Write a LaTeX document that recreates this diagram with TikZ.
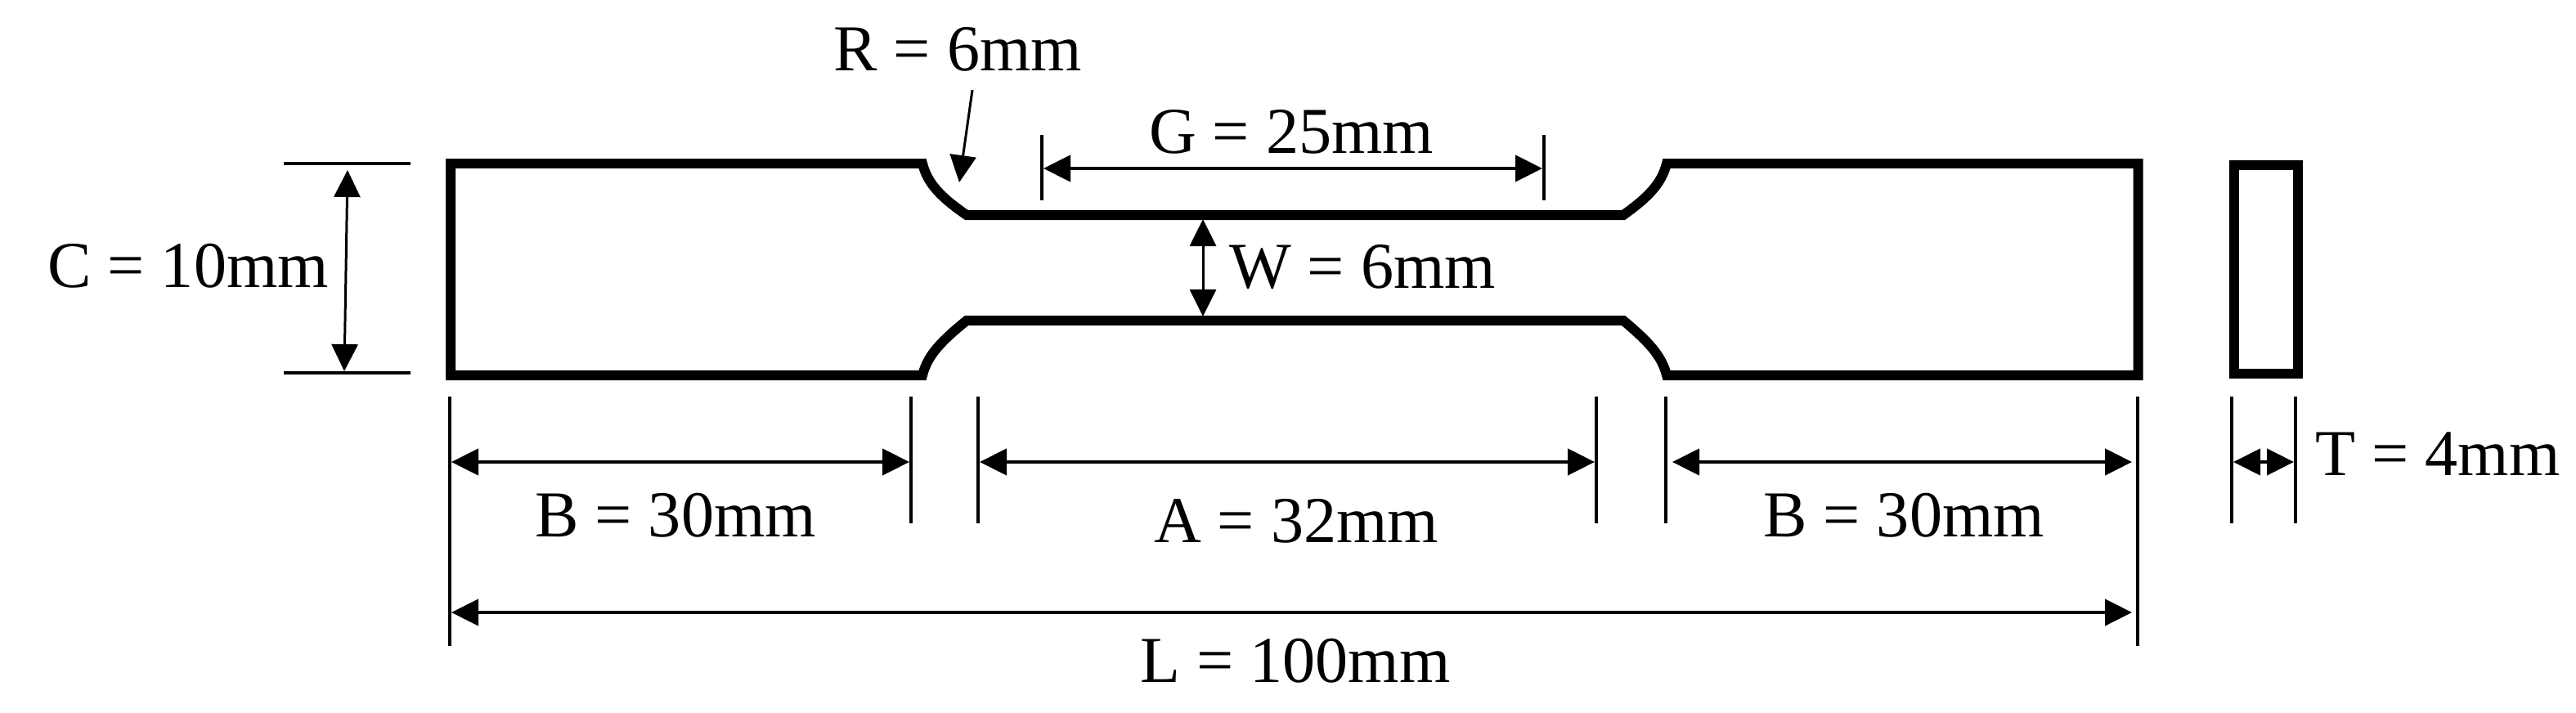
\documentclass[tikz,border=0pt]{standalone}
\usepackage{fontspec}
\setmainfont{Liberation Serif}
\usetikzlibrary{arrows.meta,calc}

\begin{document}
\begin{tikzpicture}[
    outline/.style={draw, line width=0.12cm, line join=miter},
    dimline/.style={draw, line width=0.045cm, {Triangle[length=0.33cm,width=0.32cm]}-{Triangle[length=0.33cm,width=0.32cm]}},
    extline/.style={draw, line width=0.035cm},
    dimlabel/.style={anchor=base, inner sep=0pt, font=\fontsize{22.8}{24}\selectfont}
]
\useasboundingbox (0,0) rectangle (31.5,8.71);

% Specimen outline
\coordinate (topleft) at (5.51,6.71);
\coordinate (botleft) at (5.51,4.12);
\coordinate (topright) at (26.145,6.71);
\coordinate (botright) at (26.145,4.12);
\draw[outline] (topleft) -- (11.28,6.71)
    .. controls (11.34,6.47) and (11.50,6.30) .. (11.82,6.08)
    -- (19.85,6.08)
    .. controls (20.16,6.30) and (20.32,6.47) .. (20.38,6.71)
    -- (topright) -- (botright) -- (20.38,4.12)
    .. controls (20.32,4.36) and (20.16,4.53) .. (19.85,4.79)
    -- (11.82,4.79)
    .. controls (11.50,4.53) and (11.34,4.36) .. (11.28,4.12)
    -- (botleft) -- cycle;

% Side view
\coordinate (sidetl) at (27.32,6.69);
\coordinate (sidebr) at (28.10,4.14);
\draw[outline] (sidetl) rectangle (sidebr);

% C dimension
\coordinate (ctickAl) at (3.47,6.71);
\coordinate (ctickAr) at (5.02,6.71);
\coordinate (ctickBl) at (3.47,4.15);
\coordinate (ctickBr) at (5.02,4.15);
\coordinate (carrowA) at (4.25,6.63);
\coordinate (carrowB) at (4.21,4.17);
\draw[extline] (ctickAl) -- (ctickAr);
\draw[extline] (ctickBl) -- (ctickBr);
\draw[dimline, line width=0.03cm] (carrowA) -- (carrowB);
\node[dimlabel] (clabel) at (2.30,5.20) {C = 10mm};

% R pointer
\coordinate (rstart) at (11.89,7.61);
\coordinate (rend) at (11.73,6.48);
\node[dimlabel] (rlabel) at (11.71,7.84) {R = 6mm};
\draw[line width=0.03cm, -{Triangle[length=0.33cm,width=0.32cm]}] (rstart) -- (rend);

% G dimension
\coordinate (gtickAt) at (12.74,7.06);
\coordinate (gtickAb) at (12.74,6.26);
\coordinate (gtickBt) at (18.88,7.06);
\coordinate (gtickBb) at (18.88,6.26);
\coordinate (garrowA) at (12.76,6.65);
\coordinate (garrowB) at (18.86,6.65);
\draw[extline] (gtickAt) -- (gtickAb);
\draw[extline] (gtickBt) -- (gtickBb);
\draw[dimline] (garrowA) -- (garrowB);
\node[dimlabel] (glabel) at (15.79,6.84) {G = 25mm};

% W dimension
\coordinate (warrowA) at (14.71,6.03);
\coordinate (warrowB) at (14.71,4.84);
\draw[dimline, line width=0.03cm] (warrowA) -- (warrowB);
\node[dimlabel] (wlabel) at (16.66,5.19) {W = 6mm};

% Extension lines below the specimen
\coordinate (extLt) at (5.50,3.86);
\coordinate (extLb) at (5.50,0.81);
\coordinate (extRt) at (26.14,3.86);
\coordinate (extRb) at (26.14,0.81);
\coordinate (extBt) at (11.14,3.86);
\coordinate (extBb) at (11.14,2.31);
\coordinate (extAt) at (11.96,3.86);
\coordinate (extAb) at (11.96,2.31);
\coordinate (extCt) at (19.52,3.86);
\coordinate (extCb) at (19.52,2.31);
\coordinate (extDt) at (20.37,3.86);
\coordinate (extDb) at (20.37,2.31);
\coordinate (extEt) at (27.29,3.86);
\coordinate (extEb) at (27.29,2.31);
\coordinate (extFt) at (28.07,3.86);
\coordinate (extFb) at (28.07,2.31);
\draw[extline] (extLt) -- (extLb);
\draw[extline] (extRt) -- (extRb);
\draw[extline] (extBt) -- (extBb);
\draw[extline] (extAt) -- (extAb);
\draw[extline] (extCt) -- (extCb);
\draw[extline] (extDt) -- (extDb);
\draw[extline] (extEt) -- (extEb);
\draw[extline] (extFt) -- (extFb);

% B, A, B, T dimensions
\coordinate (barrowA) at (5.52,3.06);
\coordinate (barrowB) at (11.12,3.06);
\coordinate (aarrowA) at (11.98,3.06);
\coordinate (aarrowB) at (19.50,3.06);
\coordinate (bbarrowA) at (20.45,3.06);
\coordinate (bbarrowB) at (26.07,3.06);
\coordinate (tarrowA) at (27.31,3.06);
\coordinate (tarrowB) at (28.05,3.06);
\draw[dimline] (barrowA) -- (barrowB);
\draw[dimline] (aarrowA) -- (aarrowB);
\draw[dimline] (bbarrowA) -- (bbarrowB);
\draw[dimline] (tarrowA) -- (tarrowB);
\node[dimlabel] (blabel) at (8.26,2.15) {B = 30mm};
\node[dimlabel] (alabel) at (15.85,2.08) {A = 32mm};
\node[dimlabel] (bblabel) at (23.28,2.15) {B = 30mm};
\node[dimlabel] (tlabel) at (29.81,2.90) {T = 4mm};

% L dimension
\coordinate (larrowA) at (5.52,1.22);
\coordinate (larrowB) at (26.07,1.22);
\draw[dimline] (larrowA) -- (larrowB);
\node[dimlabel] (llabel) at (15.84,0.37) {L = 100mm};

\end{tikzpicture}
\end{document}
